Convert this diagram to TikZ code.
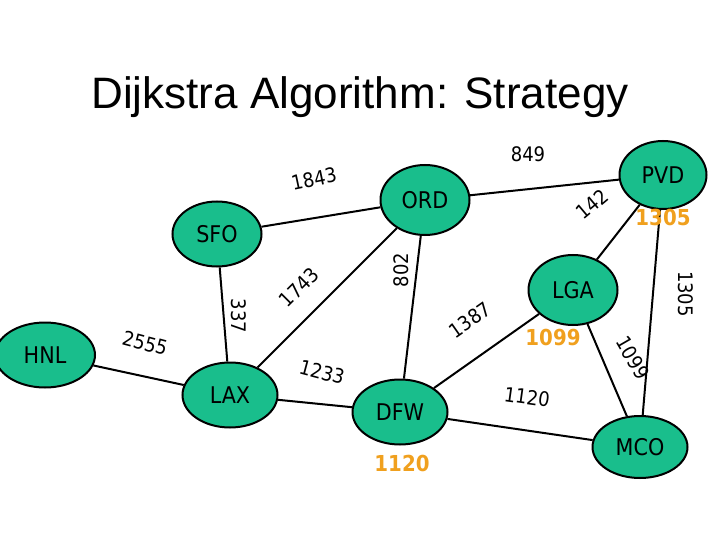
\documentclass[tikz,border=0pt]{standalone}
\usepackage{fontspec}
\setmainfont{Liberation Sans}
\newfontfamily\nf{DejaVu Sans Condensed}
\usetikzlibrary{shapes.geometric}
\definecolor{nodegreen}{RGB}{25,190,140}
\definecolor{distor}{RGB}{240,160,30}
\begin{document}
\begin{tikzpicture}[x=1pt,y=-1pt,
  city/.style={ellipse,draw=black,line width=2pt,fill=nodegreen,inner sep=0pt,font=\nf\fontsize{23}{23}\selectfont},
  edge/.style={line width=2pt},
  wt/.style={font=\nf\fontsize{20}{20}\selectfont},
  dist/.style={font=\nf\bfseries\fontsize{22}{22}\selectfont,text=distor}]
\useasboundingbox (0,0) rectangle (720,540);
\node[font=\fontsize{44}{44}\selectfont] (title) at (360,97) {Dijkstra Algorithm: Strategy};
\node[city,minimum width=89,minimum height=65] (SFO) at (217,234) {SFO};
\node[city,minimum width=89,minimum height=70] (ORD) at (425,200) {ORD};
\node[city,minimum width=87,minimum height=68] (PVD) at (663,175) {PVD};
\node[city,minimum width=89,minimum height=70] (LGA) at (573,290) {LGA};
\node[city,minimum width=100,minimum height=65] (HNL) at (45,355) {HNL};
\node[city,minimum width=95,minimum height=65] (LAX) at (230,395) {LAX};
\node[city,minimum width=95,minimum height=65] (DFW) at (400,412) {DFW};
\node[city,minimum width=95,minimum height=62] (MCO) at (640,447) {MCO};
\draw[edge] (SFO) -- (ORD);
\draw[edge] (ORD) -- (PVD);
\draw[edge] (PVD) -- (LGA);
\draw[edge] (PVD) -- (MCO);
\draw[edge] (ORD) -- (LAX);
\draw[edge] (ORD) -- (DFW);
\draw[edge] (SFO) -- (LAX);
\draw[edge] (HNL) -- (LAX);
\draw[edge] (LAX) -- (DFW);
\draw[edge] (DFW) -- (LGA);
\draw[edge] (DFW) -- (MCO);
\draw[edge] (LGA) -- (MCO);
\node[wt,rotate=12] (w1843) at (314,179) {1843};
\node[wt] (w849) at (528,154) {849};
\node[wt,rotate=40] (w142) at (592,204) {142};
\node[wt,rotate=90] (w802) at (401,270) {802};
\node[wt,rotate=45] (w1743) at (299,287) {1743};
\node[wt,rotate=-90] (w337) at (239,316) {337};
\node[wt,rotate=-90] (w1305) at (686,294) {1305};
\node[wt,rotate=35] (w1387) at (470,320) {1387};
\node[wt,rotate=-15] (w2555) at (145,343) {2555};
\node[wt,rotate=-15] (w1233) at (322,372) {1233};
\node[wt,rotate=-8] (w1120) at (527,397) {1120};
\node[wt,rotate=-60] (w1099) at (633,358) {1099};
\node[dist] (d1305) at (663,217) {1305};
\node[dist] (d1099) at (553,337) {1099};
\node[dist] (d1120) at (402,463) {1120};
\end{tikzpicture}
\end{document}
